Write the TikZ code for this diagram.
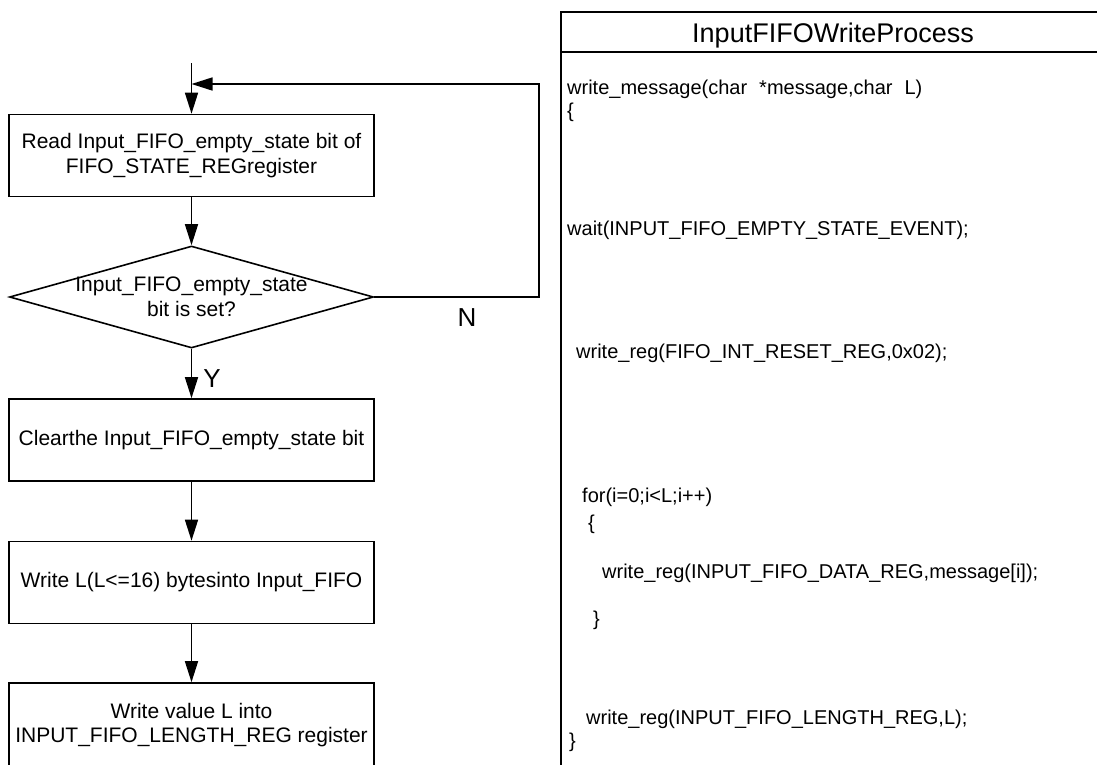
\documentclass[tikz,border=0pt]{standalone}
\usepackage{fontspec}
\setmainfont{Liberation Sans}
\usetikzlibrary{arrows.meta,shapes.geometric}
\begin{document}
\begin{tikzpicture}[x=1pt,y=-1pt,
  every node/.style={font=\fontsize{20}{24}\selectfont},
  box/.style={draw,line width=1.6pt,minimum width=365pt,minimum height=82pt,inner sep=0pt,align=center,font=\fontsize{21}{24.5}\selectfont},
  dia/.style={draw,diamond,line width=1.6pt,minimum width=364pt,minimum height=102pt,inner sep=0pt},
  flow/.style={line width=1.5pt,-{Triangle[length=21pt,width=13pt]}},
  code/.style={anchor=base west,inner sep=0pt},
  yn/.style={font=\fontsize{26}{30}\selectfont,inner sep=0pt,anchor=base},
  panel/.style={line width=1.6pt}
]
\clip (0,0) rectangle (1097,764);
\fill[white] (0,0) rectangle (1097,764);

% flowchart
\coordinate (start) at (191.5,63);
\coordinate (join) at (191.5,84);
\coordinate (c1) at (539,297);
\coordinate (c2) at (539,84);
\node[box] (b1) at (191.5,155.5) {Read Input\_FIFO\_empty\_state bit of\\FIFO\_STATE\_REGregister};
\node[dia, label={[align=center,inner sep=0pt,font=\fontsize{21}{24.5}\selectfont]center:Input\_FIFO\_empty\_state\\bit is set?}] (dec) at (191.5,297) {};
\node[box] (b2) at (191.5,440) {Clearthe Input\_FIFO\_empty\_state bit};
\node[box] (b3) at (191.5,582.5) {Write L(L<=16) bytesinto Input\_FIFO};
\node[box,minimum height=84pt] (b4) at (191.5,725) {Write value L into\\INPUT\_FIFO\_LENGTH\_REG register};

\draw[flow] (start) -- (b1.north);
\draw[flow] (b1) -- (dec);
\draw[flow] (dec) -- (b2);
\draw[flow] (b2) -- (b3);
\draw[flow] (b3) -- (b4);
\draw[flow] (dec.east) -- (c1) -- (c2) -- (join);

\node[yn] (n) at (467,326) {N};
\node[yn] (y) at (212,387) {Y};

% code panel
\draw[panel] (1110,12) -- (561,12) -- (561,790);
\draw[panel] (561,52) -- (1110,52);
\node[font=\fontsize{27}{32}\selectfont,anchor=base,inner sep=0pt] (title) at (833,42) {InputFIFOWriteProcess};

\node[code] (l1) at (567,94) {write\_message(char\hspace{0.6em}*message,char\hspace{0.6em}L)};
\node[code] (l2) at (567,117) {\{};
\node[code] (l3) at (567,235) {wait(INPUT\_FIFO\_EMPTY\_STATE\_EVENT);};
\node[code] (l4) at (576,358) {write\_reg(FIFO\_INT\_RESET\_REG,0x02);};
\node[code] (l5) at (582,502) {for(i=0;i<L;i++)};
\node[code] (l6) at (588,529) {\{};
\node[code] (l7) at (602,578) {write\_reg(INPUT\_FIFO\_DATA\_REG,message[i]);};
\node[code] (l8) at (593,625) {\}};
\node[code] (l9) at (586,724) {write\_reg(INPUT\_FIFO\_LENGTH\_REG,L);};
\node[code] (l10) at (569,747) {\}};
\end{tikzpicture}
\end{document}
